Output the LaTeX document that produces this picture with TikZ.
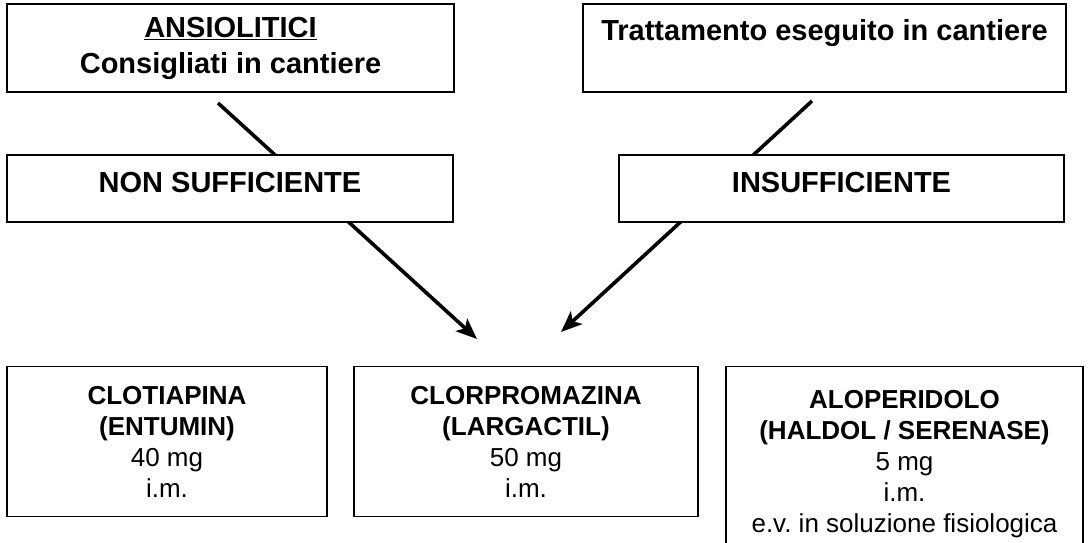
\documentclass[tikz,border=0pt]{standalone}
\usepackage{fontspec}
\setmainfont{Liberation Sans}
\usepackage{tikz}
\usetikzlibrary{arrows.meta,positioning,backgrounds}
\frenchspacing

\begin{document}
\begin{tikzpicture}[
  x=1pt, y=-1pt,
  box/.style={draw, line width=1.4pt, fill=white, align=center, inner sep=0pt},
  topbox/.style={box, font=\fontsize{29}{36}\selectfont\bfseries, minimum height=88pt},
  midbox/.style={box, font=\fontsize{29}{36}\selectfont\bfseries, minimum height=67pt, text depth=12pt},
  drugbox/.style={box, font=\fontsize{26}{31}\selectfont, anchor=north},
  >={Stealth[length=21pt,width=17pt,inset=5pt]}]

\useasboundingbox (0,0) rectangle (1088,543);

% top row
\node[topbox, minimum width=447pt] (ansio) at (230.5,48) {\underline{ANSIOLITICI}\\Consigliati in cantiere};
\node[topbox, minimum width=483pt] (cant) at (824.5,48) {Trattamento eseguito in cantiere\\\mbox{}};

% middle row
\node[midbox, minimum width=446pt] (nonsuff) at (230,188.5) {NON SUFFICIENTE};
\node[midbox, minimum width=445pt] (insuff) at (841.5,188.5) {INSUFFICIENTE};

% drugs
\node[drugbox, minimum width=320pt, minimum height=150pt] (clot) at (167,366) {\textbf{CLOTIAPINA}\\\textbf{(ENTUMIN)}\\40 mg\\i.m.};
\node[drugbox, minimum width=344pt, minimum height=150pt] (clor) at (526,366) {\textbf{CLORPROMAZINA}\\\textbf{(LARGACTIL)}\\50 mg\\i.m.};
\node[drugbox, minimum width=357pt, minimum height=194pt] (alop) at (904.5,366) {\textbf{ALOPERIDOLO}\\\textbf{(HALDOL / SERENASE)}\\5 mg\\i.m.\\e.v. in soluzione fisiologica};

% arrows run behind the middle boxes
\coordinate (l0) at (218,103);
\coordinate (l1) at (477,339);
\coordinate (r0) at (812,101);
\coordinate (r1) at (561,332);
\begin{scope}[on background layer]
\draw[->, line width=3.6pt] (l0) -- (l1);
\draw[->, line width=3.6pt] (r0) -- (r1);
\end{scope}
\end{tikzpicture}
\end{document}
